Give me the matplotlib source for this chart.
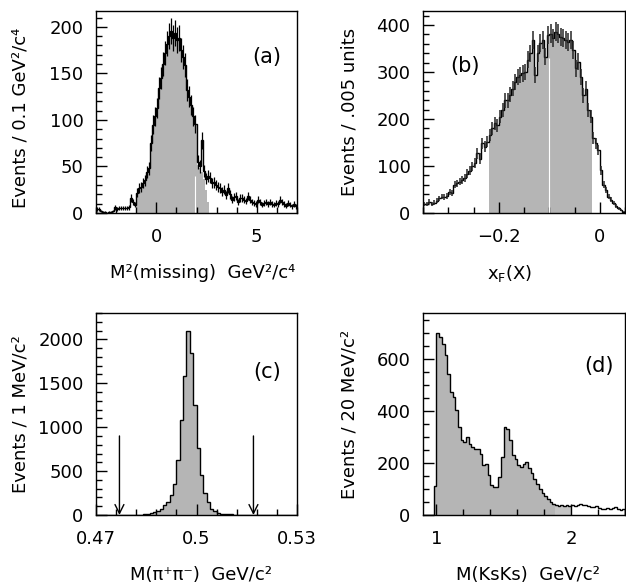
import numpy as np
import matplotlib
matplotlib.use('Agg')
import matplotlib.pyplot as plt
from matplotlib.ticker import MultipleLocator, FixedLocator, FuncFormatter

# (a) missing mass squared, 0.1 GeV^2/c^4 bins starting at -3
a_lo, a_w = -3.0, 0.1
a_counts = [4, 4, 2, 1, 1, 0, 1, 1, 2, 6,                  # -3.0 .. -2.1
            4, 5, 5, 5, 5, 5, 6, 16, 12, 9,                # -2.0 .. -1.1
            22, 27, 28, 32, 35, 44, 48, 75, 95, 104,       # -1.0 .. -0.1
            113, 134, 145, 160, 172, 182, 190, 195, 188, 193,  # 0.0 .. 0.9
            186, 188, 175, 168, 159, 132, 125, 116, 104, 96,   # 1.0 .. 1.9
            55, 50, 78, 45, 37, 40, 38, 32, 33, 30,        # 2.0 .. 2.9
            28, 27, 23, 25, 19, 27, 20, 14, 17, 18,        # 3.0 .. 3.9
            12, 16, 16, 14, 13, 18, 14, 12, 11, 10,        # 4.0 .. 4.9
            14, 12, 9, 11, 12, 10, 12, 10, 9, 11,          # 5.0 .. 5.9
            10, 14, 12, 10, 8, 11, 9, 7, 10, 7]            # 6.0 .. 6.9
a_sel_range = (-1.0, 2.0)          # shaded = histogram inside this window
a_sel_tail_lo = 2.0
a_sel_tail = [52, 48, 44, 36, 25, 12]   # shaded tail 2.0 .. 2.5

# (b) x_F, .005 bins starting at -0.35
b_lo, b_w = -0.35, 0.005
b_counts = [20, 20, 24, 19, 22, 26, 31, 35, 34, 36,
            45, 42, 60, 63, 67, 70, 74, 84, 90, 99,
            106, 127, 116, 148, 141, 152, 166, 180, 191, 187,
            205, 219, 240, 240, 252, 265, 279, 290, 294, 297,
            300, 326, 340, 368, 294, 340, 361, 368, 333, 379,
            382, 372, 386, 382, 375, 372, 368, 365, 368, 347,
            308, 322, 290, 251, 265, 219, 205, 159, 148, 134,
            91, 60, 49, 35, 28, 21, 15, 10, 6, 3]
b_sel_range = (-0.22, -0.015)

# (c) M(pi+ pi-), 1 MeV bins starting at 0.47
c_lo, c_w = 0.47, 0.001
c_counts = [0, 0, 0, 0, 0, 0, 0, 0, 1, 1,
            2, 3, 4, 5, 8, 12, 19, 30, 46, 72,
            110, 149, 225, 358, 625, 1082, 1577, 2090, 1844, 1253,
            758, 453, 250, 150, 72, 42, 23, 15, 12, 8,
            6, 5, 4, 3, 3, 2, 2, 1, 1, 1,
            0, 0, 0, 0, 0, 0, 0, 0, 0, 0]
c_cuts = [0.477, 0.517]
c_arrow_top = 900

# (d) M(KsKs), 20 MeV bins starting at 0.9
d_lo, d_w = 0.9, 0.02
d_counts = [0, 0, 0, 0, 110,
            701, 685, 659, 614, 544, 473, 454, 403, 338, 287,
            281, 300, 274, 262, 255, 255, 236, 191, 197, 153,
            117, 108, 108, 146, 223, 338, 332, 287, 229, 217,
            191, 185, 195, 204, 180, 160, 140, 120, 101, 85,
            72, 60, 50, 44, 38, 35, 37, 33, 38, 36,
            40, 34, 38, 42, 37, 40, 35, 32, 30, 35,
            28, 25, 24, 26, 22, 28, 30, 25, 18, 24]
d_sel_range = (0.98, 1.88)
d_sel_range2 = (1.88, 2.0)

GRAY = '0.71'
FS = 13

fig = plt.figure(figsize=(6.26, 5.82), dpi=100)
W, H = 626, 582


def add_axes(x0, y0, x1, y1):
    return fig.add_axes([x0 / W, 1 - y1 / H, (x1 - x0) / W, (y1 - y0) / H])


def edges_of(lo, w, counts):
    return lo + w * np.arange(len(counts) + 1)


def masked(counts, edges, rng):
    c = np.array(counts, dtype=float)
    mid = 0.5 * (edges[:-1] + edges[1:])
    return np.where((mid > rng[0]) & (mid < rng[1]), c, 0)


def style(ax, xmaj, xmin, ymaj, ymin):
    ax.xaxis.set_major_locator(xmaj)
    ax.xaxis.set_minor_locator(xmin)
    ax.yaxis.set_major_locator(MultipleLocator(ymaj))
    ax.yaxis.set_minor_locator(MultipleLocator(ymin))
    ax.tick_params(which='both', direction='in', top=False, right=False,
                   labelsize=FS, width=1, color='k')
    ax.tick_params(axis='x', pad=11)
    ax.tick_params(axis='y', pad=9)
    ax.tick_params(which='major', length=8)
    ax.tick_params(which='minor', length=4)
    ax.xaxis.set_major_formatter(FuncFormatter(lambda v, p: f'{v:g}'.replace('-', '\u2212')))
    for s in ax.spines.values():
        s.set_linewidth(1)


# ---- (a)
ax = add_axes(96, 11, 297, 213)
e = edges_of(a_lo, a_w, a_counts)
ax.stairs(masked(a_counts, e, a_sel_range), e, fill=True, color=GRAY, lw=0)
et = a_sel_tail_lo + a_w * np.arange(len(a_sel_tail) + 1)
ax.stairs(a_sel_tail, et, fill=True, color=GRAY, lw=0)
ax.vlines(1.95, 0, 40, color='white', lw=0.8)
ax.stairs(a_counts, e, color='k', lw=1)
cen = 0.5 * (e[:-1] + e[1:])
ax.errorbar(cen, a_counts, yerr=np.sqrt(a_counts), fmt='none', ecolor='k', elinewidth=0.9)
ax.set_xlim(-3, 7)
ax.set_ylim(0, 217)
style(ax, MultipleLocator(5), MultipleLocator(1), 50, 10)
ax.text(0.85, 0.77, '(a)', transform=ax.transAxes, fontsize=15, ha='center', va='center')
ax.set_xlabel('M\u00b2(missing)  GeV\u00b2/c\u2074', fontsize=FS)
ax.set_ylabel('Events / 0.1 GeV\u00b2/c\u2074', fontsize=FS)
ax.xaxis.set_label_coords(0.53, -0.25)
ax.yaxis.set_label_coords(-0.33, 0.47)

# ---- (b)
ax = add_axes(423, 11, 625, 213)
e = edges_of(b_lo, b_w, b_counts)
ax.stairs(masked(b_counts, e, b_sel_range), e, fill=True, color=GRAY, lw=0)
ax.vlines(-0.10, 0, 330, color='white', lw=0.8)
ax.stairs(b_counts, e, color='k', lw=1)
cen = 0.5 * (e[:-1] + e[1:])
ax.errorbar(cen, b_counts, yerr=np.sqrt(b_counts), fmt='none', ecolor='0.15', elinewidth=1.1)
ax.set_xlim(-0.35, 0.05)
ax.set_ylim(0, 430)
style(ax, MultipleLocator(0.2), MultipleLocator(0.05), 100, 20)
ax.text(0.21, 0.73, '(b)', transform=ax.transAxes, fontsize=15, ha='center', va='center')
ax.set_xlabel('x$_{\\mathregular{F}}$(X)', fontsize=FS)
ax.set_ylabel('Events / .005 units', fontsize=FS)
ax.xaxis.set_label_coords(0.43, -0.25)
ax.yaxis.set_label_coords(-0.32, 0.5)

# ---- (c)
ax = add_axes(96, 313, 297, 515)
e = edges_of(c_lo, c_w, c_counts)
ax.stairs(c_counts, e, fill=True, color=GRAY, lw=0)
ax.stairs(c_counts, e, color='k', lw=1)
for xc in c_cuts:
    ax.annotate('', xy=(xc, 0), xytext=(xc, c_arrow_top),
                arrowprops=dict(arrowstyle='->', lw=1, color='k',
                                mutation_scale=16, shrinkA=0, shrinkB=0))
ax.set_xlim(0.47, 0.53)
ax.set_ylim(0, 2300)
style(ax, FixedLocator([0.47, 0.5, 0.53]),
      FixedLocator(np.arange(0.476, 0.529, 0.006)), 500, 100)
ax.text(0.85, 0.71, '(c)', transform=ax.transAxes, fontsize=15, ha='center', va='center')
ax.set_xlabel('M(\u03c0\u207a\u03c0\u207b)  GeV/c\u00b2', fontsize=FS)
ax.set_ylabel('Events / 1 MeV/c\u00b2', fontsize=FS)
ax.xaxis.set_label_coords(0.52, -0.25)
ax.yaxis.set_label_coords(-0.33, 0.5)

# ---- (d)
ax = add_axes(423, 313, 625, 515)
e = edges_of(d_lo, d_w, d_counts)
ax.stairs(masked(d_counts, e, d_sel_range), e, fill=True, color=GRAY, lw=0)
ax.stairs(masked(d_counts, e, d_sel_range2), e, fill=True, color='0.77', lw=0)
ax.stairs(d_counts, e, color='k', lw=1)
ax.set_xlim(0.9, 2.4)
ax.set_ylim(0, 777)
style(ax, MultipleLocator(1), MultipleLocator(0.2), 200, 50)
ax.text(0.87, 0.74, '(d)', transform=ax.transAxes, fontsize=15, ha='center', va='center')
ax.set_xlabel('M(KsKs)  GeV/c\u00b2', fontsize=FS)
ax.set_ylabel('Events / 20 MeV/c\u00b2', fontsize=FS)
ax.xaxis.set_label_coords(0.52, -0.25)
ax.yaxis.set_label_coords(-0.32, 0.5)

fig.savefig('out.png', dpi=100)
